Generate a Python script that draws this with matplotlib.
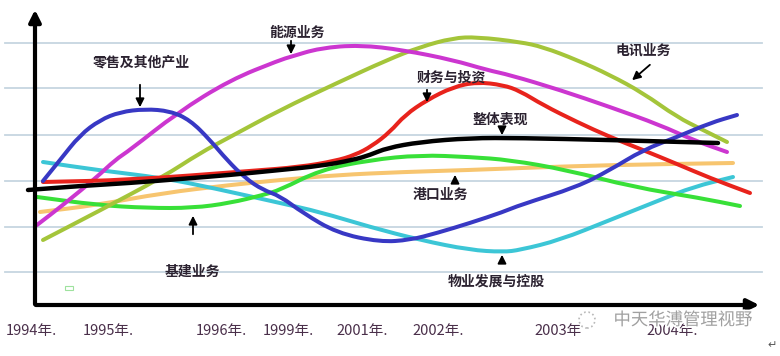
import matplotlib.pyplot as plt
import matplotlib.patheffects as pe
from matplotlib.patches import Rectangle, Circle, PathPatch
from matplotlib.path import Path

plt.rcParams['font.family'] = ['Noto Sans CJK SC', 'DejaVu Sans']

# curves (x to the right of the y axis, y above the x axis)
blue_x = [8, 25, 45, 65, 85, 110, 135, 155, 175, 192, 210, 228, 245, 268, 302, 345, 375, 402, 435, 468, 485, 542, 575, 608, 642, 675, 702]
blue_y = [124, 145, 170, 185, 193, 196, 194, 185, 165, 145, 127, 115, 109, 92, 72, 63, 65, 72, 82, 93, 100, 118, 135, 155, 168, 182, 190]

magenta_x = [2, 28, 62, 80, 95, 142, 195, 245, 255, 285, 325, 368, 418, 452, 475, 525, 575, 625, 658, 692]
magenta_y = [80, 100, 128, 145, 155, 192, 225, 245, 248, 257, 260, 255, 245, 235, 230, 215, 198, 180, 165, 153]

lime_x = [8, 62, 128, 165, 195, 245, 302, 352, 385, 418, 442, 485, 508, 542, 575, 608, 642, 668, 692]
lime_y = [65, 93, 128, 152, 168, 195, 222, 245, 258, 267, 268, 263, 258, 245, 230, 212, 188, 175, 163]

red_x = [8, 95, 215, 265, 300, 320, 337, 355, 370, 392, 418, 442, 468, 485, 508, 542, 575, 608, 642, 675, 715]
red_y = [123, 125, 134, 138, 144, 150, 159, 173, 190, 205, 218, 223, 220, 214, 200, 183, 168, 155, 141, 127, 112]

black_x = [-7, 45, 95, 145, 195, 245, 285, 318, 335, 352, 385, 435, 485, 575, 683]
black_y = [115, 119, 122, 126, 130, 135, 139, 145, 150, 157, 163, 167, 167, 165, 162]

green_x = [2, 62, 112, 158, 195, 228, 245, 285, 335, 385, 435, 475, 532, 598, 665, 705]
green_y = [108, 100, 97, 97, 102, 110, 115, 135, 145, 150, 148, 145, 135, 118, 107, 99]

orange_x = [5, 62, 128, 195, 245, 302, 368, 435, 485, 575, 698]
orange_y = [93, 100, 112, 120, 125, 130, 133, 135, 137, 140, 142]

cyan_x = [8, 62, 128, 178, 245, 285, 335, 385, 435, 468, 485, 525, 575, 625, 658, 698]
cyan_y = [143, 135, 127, 117, 102, 93, 78, 65, 55, 53, 55, 65, 85, 105, 118, 128]

grid_y = [262, 217, 170, 124, 78, 33]

tick_x = [-4, 73, 186, 253, 327, 403, 523, 637]
tick_labels = ['1994年.', '1995年.', '1996年.', '1999年.', '2001年.', '2002年.', '2003年', '2004年.']

# label text, text centre, arrow tail, arrow head
labels = [
    ('零售及其他产业', (106, 242), (105, 223), (105, 195)),
    ('能源业务', (262, 272), (256, 267), (256, 248)),
    ('财务与投资', (416, 227), (392, 218), (392, 200)),
    ('整体表现', (465, 185), (467, 179), (467, 167)),
    ('电讯业务', (608, 255), (617, 242), (595, 223)),
    ('基建业务', (157, 33), (158, 68), (158, 92)),
    ('港口业务', (405, 110), (420, 122), (420, 133)),
    ('物业发展与控股', (461, 23), (467, 40), (467, 53)),
]


def smooth_line(ax, xs, ys, color, lw, z):
    # read points used as quadratic control points, so the corners get rounded
    pts = list(zip(xs, ys))
    verts = [pts[0]]
    codes = [Path.MOVETO]
    mid = lambda a, b: ((a[0] + b[0]) / 2, (a[1] + b[1]) / 2)
    verts.append(mid(pts[0], pts[1]))
    codes.append(Path.LINETO)
    for i in range(1, len(pts) - 1):
        verts += [pts[i], mid(pts[i], pts[i + 1])]
        codes += [Path.CURVE3, Path.CURVE3]
    verts.append(pts[-1])
    codes.append(Path.LINETO)
    ax.add_patch(PathPatch(Path(verts, codes), fill=False, ec=color, lw=lw,
                           capstyle='round', joinstyle='round', zorder=z))


fig = plt.figure(figsize=(7.8, 3.56), dpi=100)
ax = fig.add_axes([0, 0, 1, 1])
ax.set_xlim(-35, 745)
ax.set_ylim(-51, 305)
ax.axis('off')

for gy in grid_y:
    ax.plot([-30, 727], [gy, gy], color='#c6d6e0', lw=1.3, zorder=1)

lw = 2.9
smooth_line(ax, orange_x, orange_y, '#f7c56f', lw, 2)
smooth_line(ax, cyan_x, cyan_y, '#3cc6d6', lw, 3)
smooth_line(ax, green_x, green_y, '#38e038', lw, 3)
smooth_line(ax, lime_x, lime_y, '#a4c53a', lw, 3)
smooth_line(ax, magenta_x, magenta_y, '#cc36d0', lw, 3)
smooth_line(ax, red_x, red_y, '#e8231c', lw, 4)
smooth_line(ax, blue_x, blue_y, '#3838c4', lw, 4)
smooth_line(ax, black_x, black_y, 'black', 3.2, 5)

# axes with arrow heads
ax.annotate('', xy=(0, 298), xytext=(0, -2),
            arrowprops=dict(arrowstyle='-|>,head_width=0.35,head_length=0.7', color='black', lw=3),
            zorder=6)
ax.annotate('', xy=(727, 0), xytext=(-2, 0),
            arrowprops=dict(arrowstyle='-|>,head_width=0.35,head_length=0.7', color='black', lw=3),
            zorder=6)

for x, t in zip(tick_x, tick_labels):
    ax.text(x, -26, t, ha='center', va='center', fontsize=10.5, color='#4a2f4a')

for name, pos, tail, head in labels:
    ax.text(pos[0], pos[1], name, ha='center', va='center', fontsize=10,
            fontweight='bold', color='#2b2230', zorder=7)
    ax.annotate('', xy=head, xytext=tail,
                arrowprops=dict(arrowstyle='-|>,head_width=0.25,head_length=0.5',
                                color='black', lw=1.3), zorder=7)

ax.add_patch(Rectangle((30, 15), 8, 4, fill=False, ec='#9ee29e', lw=0.8))

# watermark
ax.add_patch(Circle((552, -15), 8, fill=False, ec='#b8b8b8', lw=1.2, ls=':', zorder=8))
ax.text(648, -15, '中天华溥管理视野', ha='center', va='center', fontsize=12.5,
        color='#a0a0a0', zorder=8,
        path_effects=[pe.withStroke(linewidth=2.5, foreground='white')])
ax.text(737, -40, '↵', ha='center', va='center', fontsize=8, color='#555555')

fig.savefig('out.png', dpi=100)
